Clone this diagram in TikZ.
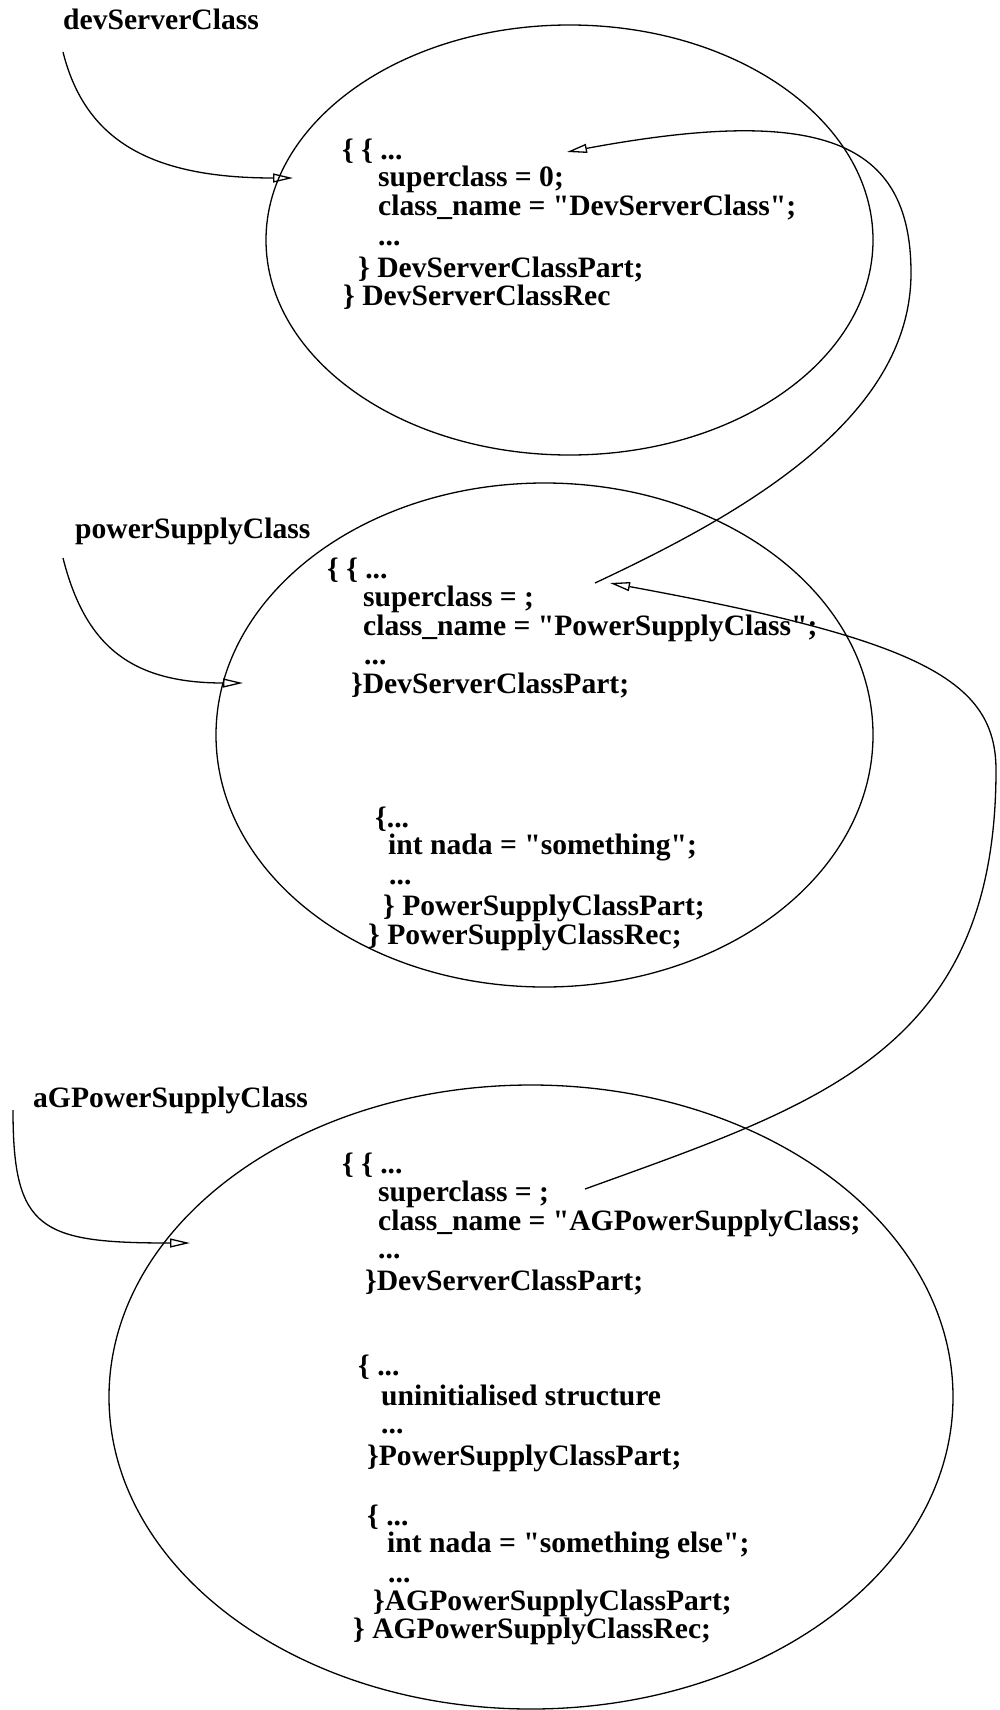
\documentclass[tikz,border=0pt]{standalone}
\usepackage{fontspec}
\setmainfont{Liberation Serif}[Ligatures=TeXOff]
\usetikzlibrary{arrows.meta}
\begin{document}
\begin{tikzpicture}[x=1bp,y=-1bp,
  code/.style={anchor=base west, inner sep=0pt,
    font=\fontsize{29.6bp}{30bp}\selectfont\bfseries},
  outline/.style={line width=1.3bp},
  link/.style={line width=1.3bp, -{Triangle[open,length=20bp,width=9bp]}}]
\useasboundingbox (0,0) rectangle (999,1710);

% class record outlines
\draw[outline] (569.5,240) ellipse [x radius=303.5, y radius=215];
\draw[outline] (544.5,735) ellipse [x radius=328.5, y radius=252];
\draw[outline] (531,1397) ellipse [x radius=422, y radius=312];

% class pointer names
\node[code] (devlab) at (63,29) {devServerClass};
\node[code] (pslab) at (75,538) {powerSupplyClass};
\node[code] (aglab) at (33,1107) {aGPowerSupplyClass};

% DevServerClassRec
\node[code] (b1a) at (342,159) {\{ \{ ...};
\node[code] (b1b) at (378,186) {superclass = 0;};
\node[code] (b1c) at (378,215) {class\_name = "DevServerClass";};
\node[code] (b1d) at (378,245) {...};
\node[code] (b1e) at (358,277) {\} DevServerClassPart;};
\node[code] (b1f) at (343,305) {\} DevServerClassRec};

% PowerSupplyClassRec
\node[code] (b2a) at (327,578) {\{ \{ ...};
\node[code] (b2b) at (363,606) {superclass = ;};
\node[code] (b2c) at (363,635) {class\_name = "PowerSupplyClass";};
\node[code] (b2d) at (364,664) {...};
\node[code] (b2e) at (351,693) {\}DevServerClassPart;};
\node[code] (b2f) at (375,827) {\{...};
\node[code] (b2g) at (388,854) {int nada = "something";};
\node[code] (b2h) at (389,884) {...};
\node[code] (b2i) at (383,915) {\} PowerSupplyClassPart;};
\node[code] (b2j) at (368,944) {\} PowerSupplyClassRec;};

% AGPowerSupplyClassRec
\node[code] (b3a) at (342,1173) {\{ \{ ...};
\node[code] (b3b) at (378,1201) {superclass = ;};
\node[code] (b3c) at (378,1230) {class\_name = "AGPowerSupplyClass;};
\node[code] (b3d) at (378,1258) {...};
\node[code] (b3e) at (365,1290) {\}DevServerClassPart;};
\node[code] (b3f) at (358,1375) {\{ ...};
\node[code] (b3g) at (381,1405) {uninitialised structure};
\node[code] (b3h) at (381,1433) {...};
\node[code] (b3i) at (367,1465) {\}PowerSupplyClassPart;};
\node[code] (b3j) at (367,1525) {\{ ...};
\node[code] (b3k) at (387,1552) {int nada = "something else";};
\node[code] (b3l) at (388,1582) {...};
\node[code] (b3m) at (373,1610) {\}AGPowerSupplyClassPart;};
\node[code] (b3n) at (353,1638) {\} AGPowerSupplyClassRec;};

% connector end points
\coordinate (devfrom) at (63,52);
\coordinate (devto) at (293,178);
\coordinate (psfrom) at (63,558);
\coordinate (psto) at (243,683);
\coordinate (agfrom) at (13,1110);
\coordinate (agto) at (190,1243);
\coordinate (pssuper) at (595,583);
\coordinate (devtarget) at (567,152);
\coordinate (agsuper) at (585,1189);
\coordinate (pstarget) at (610,583);

% pointers into the records
\draw[link] (devfrom) .. controls (85,140) and (150,178) .. (devto);
\draw[link] (psfrom) .. controls (85,645) and (130,683) .. (psto);
\draw[link] (agfrom) .. controls (13,1230) and (40,1243) .. (agto);

% superclass links
\draw[link] (pssuper) .. controls (740,515) and (911,420) .. (911,273)
  .. controls (911,140) and (820,105) .. (devtarget);
\draw[link] (agsuper) .. controls (820,1104) and (996,1050) .. (996,770)
  .. controls (996,680) and (920,640) .. (pstarget);
\end{tikzpicture}
\end{document}
